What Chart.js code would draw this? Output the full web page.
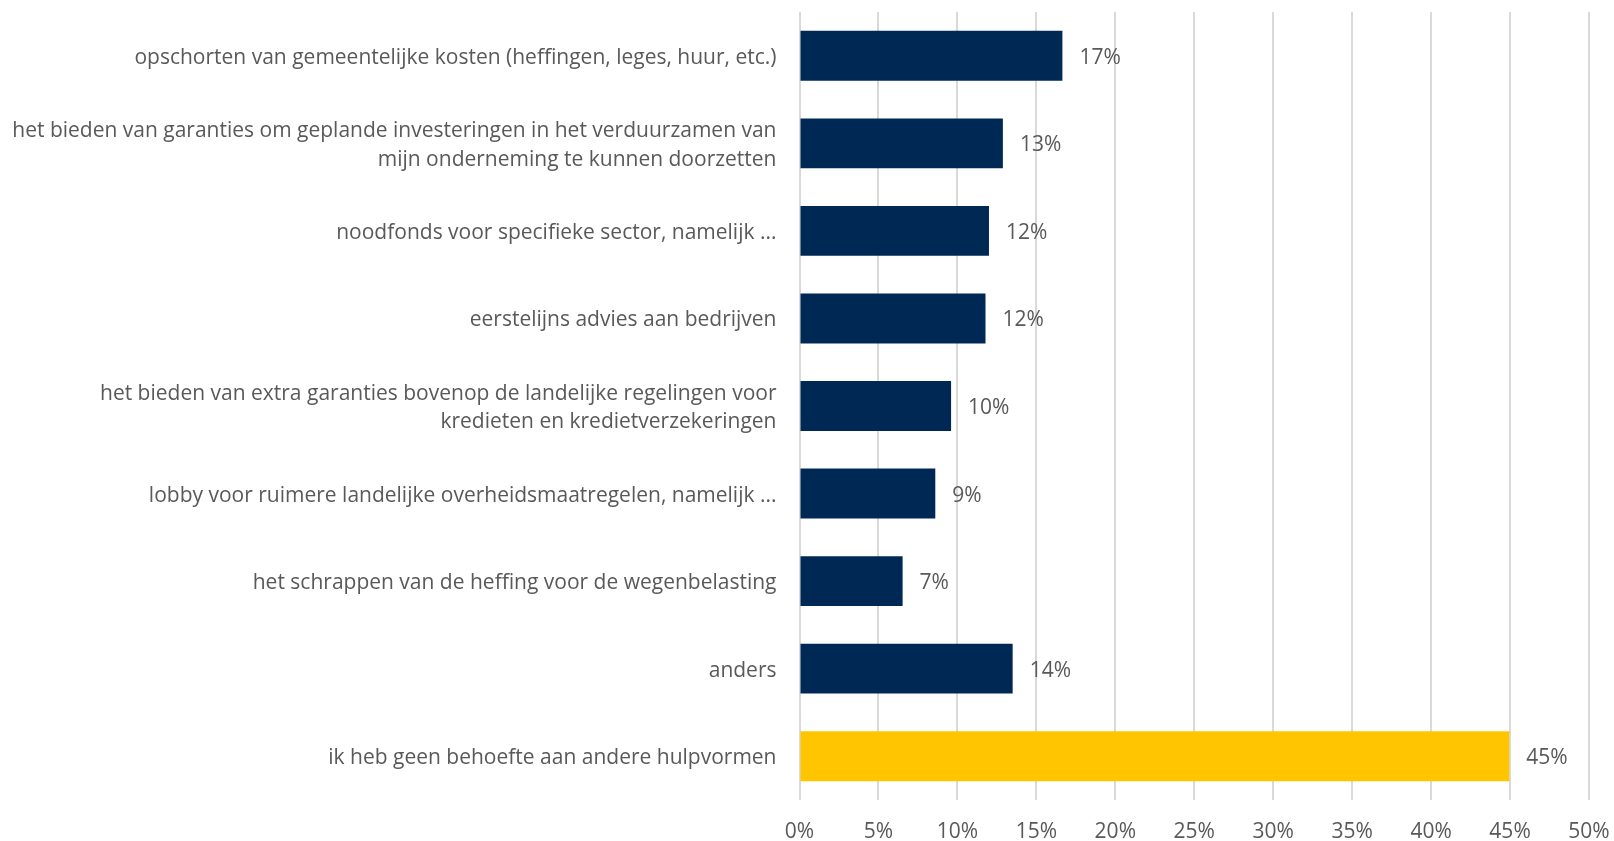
<!DOCTYPE html>
<html>
<head>
<meta charset="utf-8">
<script src="https://cdn.jsdelivr.net/npm/chart.js@4"></script>
<style>
  html, body { margin: 0; padding: 0; background: #ffffff; }
  #wrap { width: 1614px; height: 841px; position: relative; }
</style>
</head>
<body>
<div id="wrap"><canvas id="c" width="1614" height="841"></canvas></div>
<script>
const categories = [
  ["opschorten van gemeentelijke kosten (heffingen, leges, huur, etc.)"],
  ["het bieden van garanties om geplande investeringen in het verduurzamen van", "mijn onderneming te kunnen doorzetten"],
  ["noodfonds voor specifieke sector, namelijk ..."],
  ["eerstelijns advies aan bedrijven"],
  ["het bieden van extra garanties bovenop de landelijke regelingen voor", "kredieten en kredietverzekeringen"],
  ["lobby voor ruimere landelijke overheidsmaatregelen, namelijk ..."],
  ["het schrappen van de heffing voor de wegenbelasting"],
  ["anders"],
  ["ik heb geen behoefte aan andere hulpvormen"]
];
const values = [16.65, 12.88, 12.0, 11.78, 9.6, 8.6, 6.53, 13.5, 44.95];
const xTicks = [0, 5, 10, 15, 20, 25, 30, 35, 40, 45, 50];

const NAVY = '#002855';
const YELLOW = '#FFC600';
const TEXT = '#595959';
const FONT = "'Open Sans', sans-serif";

const valueLabels = {
  id: 'valueLabels',
  afterDatasetsDraw(chart) {
    const ctx = chart.ctx;
    const meta = chart.getDatasetMeta(0);
    ctx.save();
    ctx.fillStyle = TEXT;
    ctx.font = "21px " + FONT;
    ctx.textAlign = 'left';
    ctx.textBaseline = 'middle';
    meta.data.forEach((bar, i) => {
      ctx.fillText(Math.round(values[i]) + '%', bar.x + 17, bar.y + 2);
    });
    ctx.restore();
  }
};

new Chart(document.getElementById('c'), {
  type: 'bar',
  data: {
    labels: categories,
    datasets: [{
      data: values,
      backgroundColor: (c) => c.dataIndex === categories.length - 1 ? YELLOW : NAVY,
      borderWidth: 0,
      categoryPercentage: 1.0,
      barPercentage: 0.57
    }]
  },
  options: {
    indexAxis: 'y',
    responsive: false,
    animation: false,
    devicePixelRatio: 1,
    layout: { padding: { top: 12, right: 25, bottom: 0, left: 0 } },
    plugins: { legend: { display: false }, tooltip: { enabled: false } },
    scales: {
      x: {
        min: 0, max: 50,
        afterBuildTicks: (s) => { s.ticks = xTicks.map(v => ({ value: v })); },
        afterFit: (s) => { s.height = 41; s.paddingLeft = 0; s.paddingRight = 0; },
        ticks: {
          callback: (v) => v + '%',
          color: TEXT,
          font: { family: FONT, size: 21 },
          padding: 19,
          maxRotation: 0
        },
        grid: { color: '#d9d9d9', lineWidth: 2, drawTicks: false },
        border: { display: false }
      },
      y: {
        afterFit: (s) => { s.width = 799.5; s.paddingTop = 0; s.paddingBottom = 0; },
        ticks: {
          color: TEXT,
          font: { family: FONT, size: 21, lineHeight: 1.37 },
          padding: 23,
          labelOffset: 2
        },
        grid: { display: false, drawTicks: false },
        border: { display: false }
      }
    }
  },
  plugins: [valueLabels]
});
</script>
</body>
</html>
